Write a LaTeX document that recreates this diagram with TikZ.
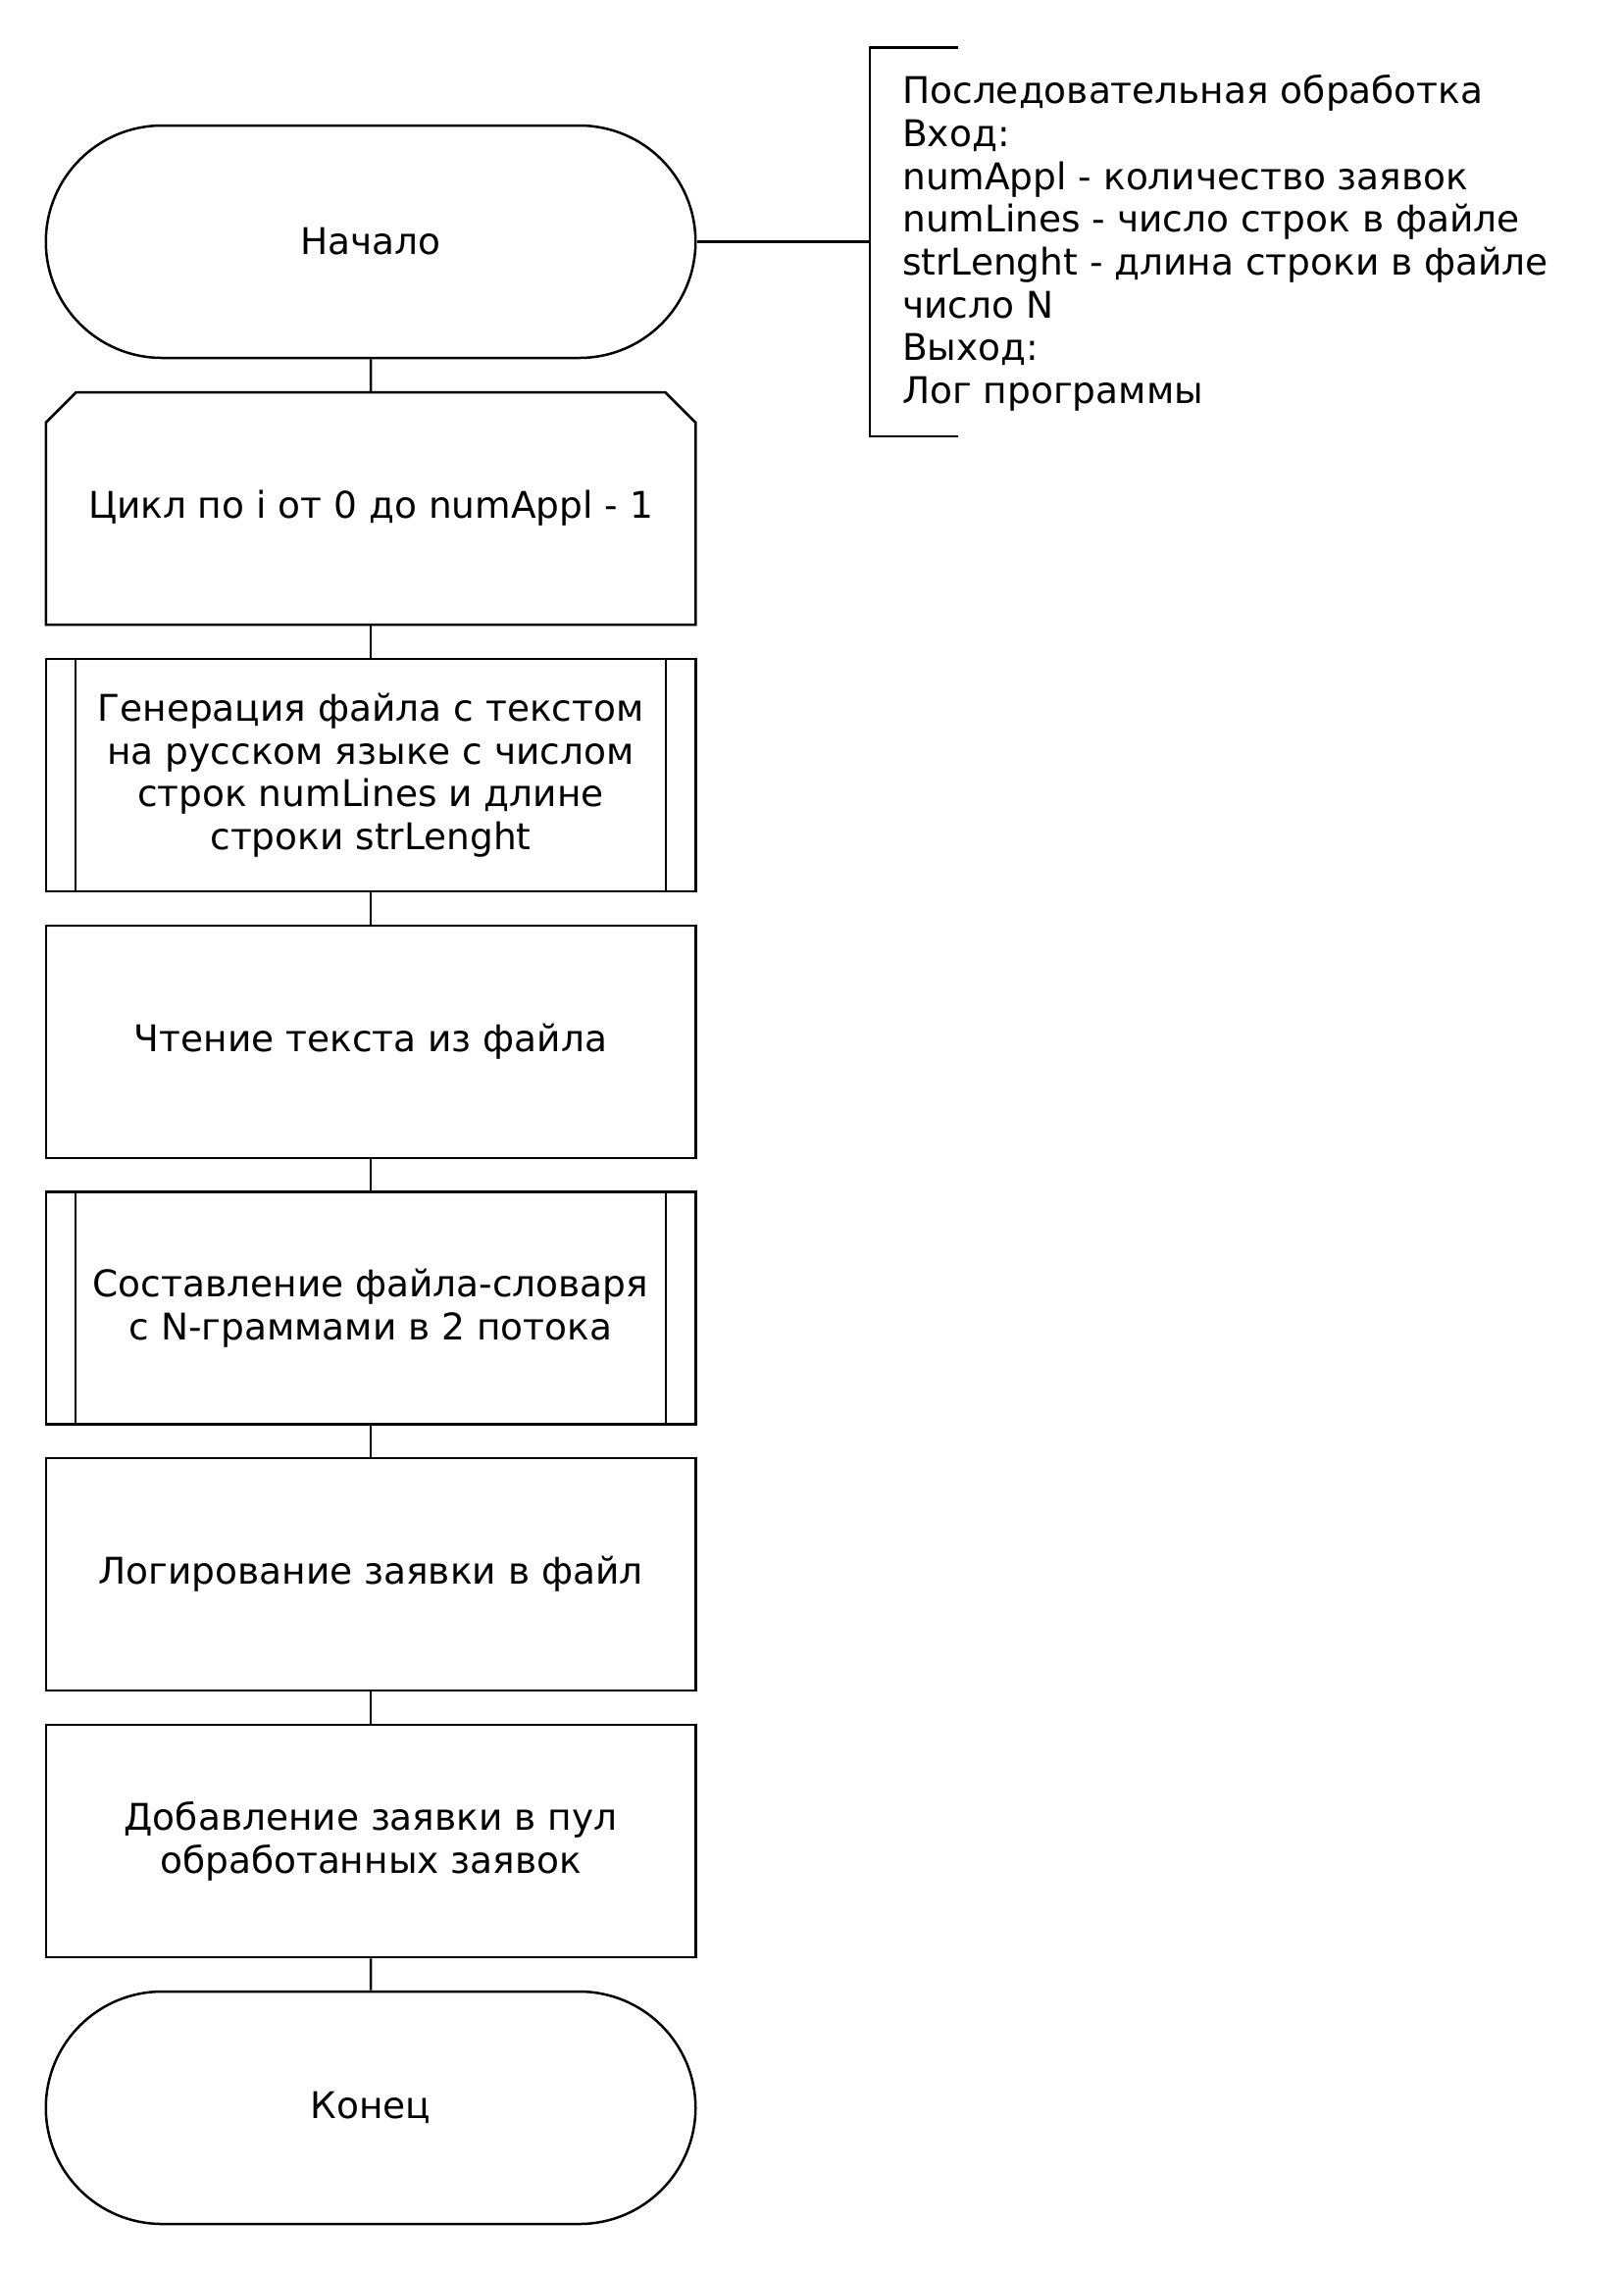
\documentclass[tikz,border=0pt]{standalone}
\usepackage{fontspec}
\setmainfont{DejaVu Sans}
\usetikzlibrary{shapes.misc}
\begin{document}
\begin{tikzpicture}[x=1pt,y=-1pt, line width=2.5pt,
  txt/.style={font=\fontsize{37.5}{43.7}\selectfont},
  base/.style={draw, txt, minimum width=662.5pt, minimum height=237pt, inner sep=0pt, align=center},
  proc/.style={base, rectangle},
  term/.style={base, rounded rectangle},
  loopbox/.style={base, rectangle, draw=none, outer sep=0pt},
  sub/.style={base, rectangle}]
\useasboundingbox (0,0) rectangle (1656,2316);
\node[term] (start) at (378,246.5) {Начало};
\node[loopbox] (loop) at (378,518.5) {Цикл по i от 0 до numAppl - 1};
\node[sub] (gen) at (378,790.5) {Генерация файла с текстом\\на русском языке с числом\\строк numLines и длине\\строки strLenght};
\node[proc] (read) at (378,1062.5) {Чтение текста из файла};
\node[sub] (dict) at (378,1334) {Составление файла-словаря\\с N-граммами в 2 потока};
\node[proc] (log) at (378,1605.5) {Логирование заявки в файл};
\node[proc] (pool) at (378,1877.5) {Добавление заявки в пул\\обработанных заявок};
\node[term] (end) at (378,2149.5) {Конец};
\draw ([yshift=-31pt]loop.north west) -- ([xshift=31pt]loop.north west) -- ([xshift=-31pt]loop.north east) -- ([yshift=-31pt]loop.north east) -- (loop.south east) -- (loop.south west) -- cycle;
\foreach \n in {gen,dict}{
  \draw ([xshift=31.5pt]\n.north west) -- ([xshift=31.5pt]\n.south west);
  \draw ([xshift=-31.5pt]\n.north east) -- ([xshift=-31.5pt]\n.south east);
}
\draw (start) -- (loop.north);
\draw (loop.south) -- (gen);
\draw (gen) -- (read);
\draw (read) -- (dict);
\draw (dict) -- (log);
\draw (log) -- (pool);
\draw (pool) -- (end);
\coordinate (bm) at (887,246.5);
\coordinate (bt) at (977,48.5);
\coordinate (bb) at (977,445);
\draw (start.east) -- (bm);
\draw (bt) -| (bm) |- (bb);
\node[txt, anchor=west, align=left, inner sep=0pt] (ann) at (919,248) {Последовательная обработка\\Вход:\\numAppl - количество заявок\\numLines - число строк в файле\\strLenght - длина строки в файле\\число N\\Выход:\\Лог программы};
\end{tikzpicture}
\end{document}
